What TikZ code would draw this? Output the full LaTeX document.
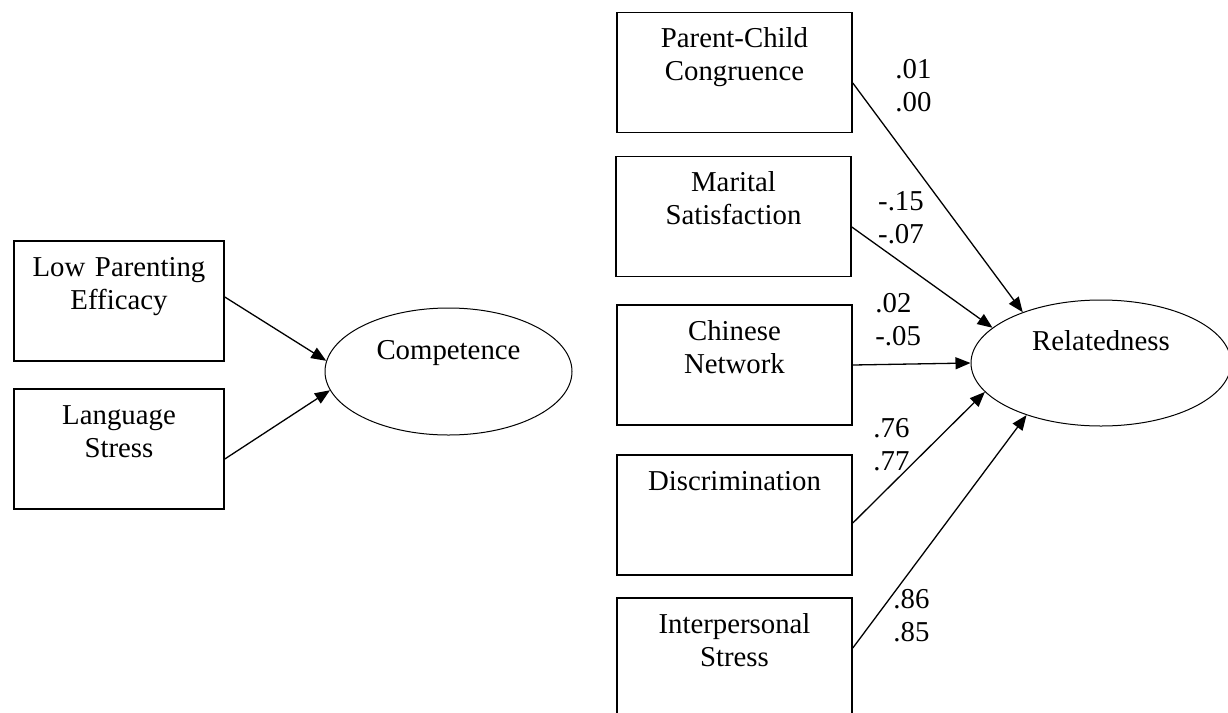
\documentclass[tikz,border=0pt]{standalone}
\usepackage{fontspec}
\setmainfont{Liberation Serif}
\usetikzlibrary{positioning, arrows.meta, shapes.geometric}
\tikzset{
  factor/.style={draw, line width=0.8pt, inner sep=0pt, text width=100pt, align=center,
    text height=17.5pt, text depth=42.5pt, minimum width=117.5pt},
  latent/.style={draw, ellipse, line width=0.5pt, inner sep=0pt, text height=10pt},
  coef/.style={inner sep=0pt, text width=26pt, align=left, anchor=base west},
  effect/.style={line width=0.65pt, -{Triangle[length=7.5pt,width=6pt]}},
}

\begin{document}
\begin{tikzpicture}[x=0.5pt, y=-0.5pt, font=\fontsize{14.4}{16.5}\selectfont]
    \useasboundingbox (0,0) rectangle (1228,713);
    \node[factor, minimum width=105pt] (lpe) at (119,301) {Low Parenting\\Efficacy};
    \node[factor, minimum width=105pt] (lang) at (119,449) {Language\\Stress};
    \node[latent, minimum width=123.5pt, minimum height=63.5pt, text depth=22.5pt] (comp) at (448.5,371.5) {Competence};

    \node[factor] (pcc) at (734.5,72.5) {Parent-Child\\Congruence};
    \node[factor] (mar) at (733.5,216.5) {Marital\\Satisfaction};
    \node[factor] (chn) at (734.5,365) {Chinese\\Network};
    \node[factor] (dis) at (734.5,515) {Discrimination};
    \node[factor] (inter) at (734.5,658) {Interpersonal\\Stress};
    \node[latent, minimum width=130pt, minimum height=63pt, text depth=23pt] (rel) at (1101,363) {Relatedness};

    \draw[effect] ([yshift=2pt]lpe.east) -- (comp.175);
    \draw[effect] ([yshift=-5pt]lang.east) -- (comp.189);
    \draw[effect] ([yshift=-5.25pt]pcc.east) -- (rel.147);
    \draw[effect] ([yshift=-5.25pt]mar.east) -- (rel.162);
    \draw[effect] (chn.east) -- (rel.west);
    \draw[effect] ([yshift=-4pt]dis.east) -- (rel.194);
    \draw[effect] ([yshift=5pt]inter.east) -- (rel.215);

    \node[coef] (b1) at (895,78) {.01\\.00};
    \node[coef, align=center, anchor=base] (b2) at (901,210) {-.15\\-.07};
    \node[coef] (b3) at (875,312) {.02\\-.05};
    \node[coef] (b4) at (873,437) {.76\\.77};
    \node[coef] (b5) at (893,608) {.86\\.85};
\end{tikzpicture}
\end{document}
